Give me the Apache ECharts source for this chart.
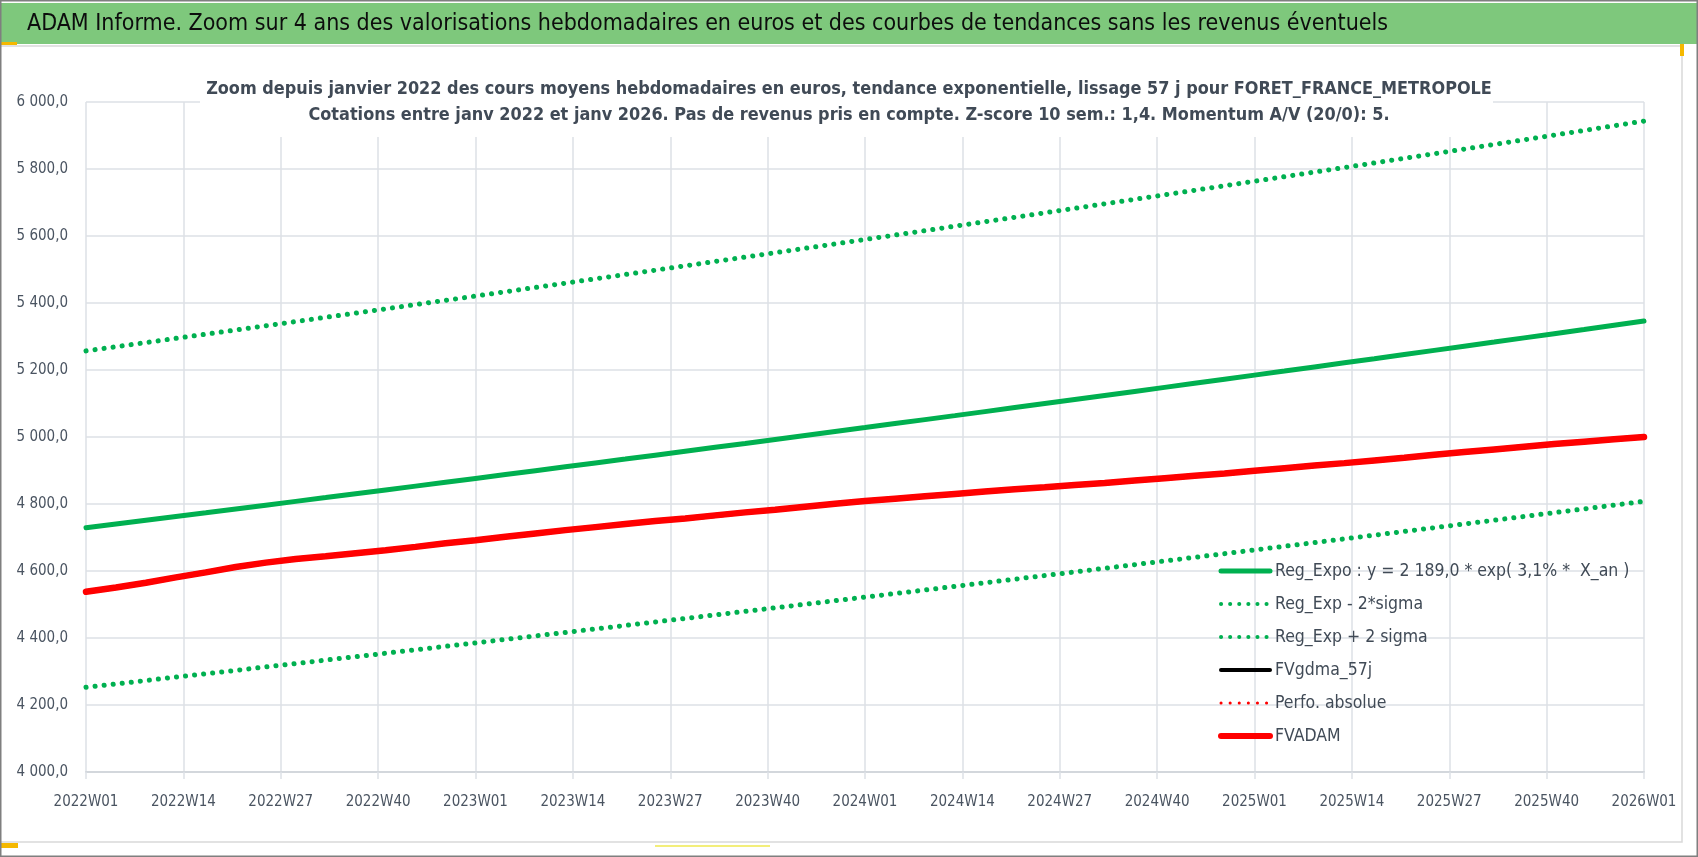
<!DOCTYPE html>
<html>
<head>
<meta charset="utf-8">
<title>ADAM Informe</title>
<script src="https://cdn.jsdelivr.net/npm/echarts@6/dist/echarts.min.js"></script>
<style>
  html, body { margin: 0; padding: 0; background: #fff; }
  #chart { width: 1698px; height: 857px; }
</style>
</head>
<body>
<div id="chart"></div>
<script>
// semaines ISO affichées sur l'axe (2022W01 -> 2026W01)
const weeks = [
  '2022W01','2022W02','2022W03','2022W04','2022W05','2022W06','2022W07','2022W08','2022W09','2022W10','2022W11','2022W12','2022W13',
  '2022W14','2022W15','2022W16','2022W17','2022W18','2022W19','2022W20','2022W21','2022W22','2022W23','2022W24','2022W25','2022W26',
  '2022W27','2022W28','2022W29','2022W30','2022W31','2022W32','2022W33','2022W34','2022W35','2022W36','2022W37','2022W38','2022W39',
  '2022W40','2022W41','2022W42','2022W43','2022W44','2022W45','2022W46','2022W47','2022W48','2022W49','2022W50','2022W51','2022W52',
  '2023W01','2023W02','2023W03','2023W04','2023W05','2023W06','2023W07','2023W08','2023W09','2023W10','2023W11','2023W12','2023W13',
  '2023W14','2023W15','2023W16','2023W17','2023W18','2023W19','2023W20','2023W21','2023W22','2023W23','2023W24','2023W25','2023W26',
  '2023W27','2023W28','2023W29','2023W30','2023W31','2023W32','2023W33','2023W34','2023W35','2023W36','2023W37','2023W38','2023W39',
  '2023W40','2023W41','2023W42','2023W43','2023W44','2023W45','2023W46','2023W47','2023W48','2023W49','2023W50','2023W51','2023W52',
  '2024W01','2024W02','2024W03','2024W04','2024W05','2024W06','2024W07','2024W08','2024W09','2024W10','2024W11','2024W12','2024W13',
  '2024W14','2024W15','2024W16','2024W17','2024W18','2024W19','2024W20','2024W21','2024W22','2024W23','2024W24','2024W25','2024W26',
  '2024W27','2024W28','2024W29','2024W30','2024W31','2024W32','2024W33','2024W34','2024W35','2024W36','2024W37','2024W38','2024W39',
  '2024W40','2024W41','2024W42','2024W43','2024W44','2024W45','2024W46','2024W47','2024W48','2024W49','2024W50','2024W51','2024W52',
  '2025W01','2025W02','2025W03','2025W04','2025W05','2025W06','2025W07','2025W08','2025W09','2025W10','2025W11','2025W12','2025W13',
  '2025W14','2025W15','2025W16','2025W17','2025W18','2025W19','2025W20','2025W21','2025W22','2025W23','2025W24','2025W25','2025W26',
  '2025W27','2025W28','2025W29','2025W30','2025W31','2025W32','2025W33','2025W34','2025W35','2025W36','2025W37','2025W38','2025W39',
  '2025W40','2025W41','2025W42','2025W43','2025W44','2025W45','2025W46','2025W47','2025W48','2025W49','2025W50','2025W51','2025W52',
  '2026W01'
];

// semaines (toutes les 4 semaines)
const sampleWeeks = [
  '2022W01','2022W05','2022W09','2022W13','2022W17','2022W21','2022W25','2022W29','2022W33','2022W37','2022W41','2022W45','2022W49',
  '2023W01','2023W05','2023W09','2023W13','2023W17','2023W21','2023W25','2023W29','2023W33','2023W37','2023W41','2023W45','2023W49',
  '2024W01','2024W05','2024W09','2024W13','2024W17','2024W21','2024W25','2024W29','2024W33','2024W37','2024W41','2024W45','2024W49',
  '2025W01','2025W05','2025W09','2025W13','2025W17','2025W21','2025W25','2025W29','2025W33','2025W37','2025W41','2025W45','2025W49',
  '2026W01'
];

const regExpo = [
  4729.0, 4740.2, 4751.4, 4762.6, 4773.8, 4785.1, 4796.4, 4807.8, 4819.1, 4830.5,
  4841.9, 4853.3, 4864.8, 4876.3, 4887.8, 4899.3, 4910.9, 4922.5, 4934.1, 4945.8,
  4957.5, 4969.2, 4980.9, 4992.7, 5004.5, 5016.3, 5028.1, 5040.0, 5051.9, 5063.8,
  5075.8, 5087.8, 5099.8, 5111.8, 5123.9, 5136.0, 5148.1, 5160.3, 5172.5, 5184.7,
  5196.9, 5209.2, 5221.5, 5233.8, 5246.2, 5258.6, 5271.0, 5283.4, 5295.9, 5308.4,
  5320.9, 5333.5, 5346.1
];

const regExpMinus = [
  4253.0, 4263.0, 4273.1, 4283.2, 4293.3, 4303.4, 4313.6, 4323.8, 4334.0, 4344.2,
  4354.5, 4364.8, 4375.1, 4385.4, 4395.8, 4406.2, 4416.6, 4427.0, 4437.4, 4447.9,
  4458.4, 4468.9, 4479.5, 4490.1, 4500.7, 4511.3, 4522.0, 4532.6, 4543.3, 4554.1,
  4564.8, 4575.6, 4586.4, 4597.2, 4608.1, 4619.0, 4629.9, 4640.8, 4651.8, 4662.8,
  4673.8, 4684.8, 4695.9, 4707.0, 4718.1, 4729.2, 4740.4, 4751.6, 4762.8, 4774.1,
  4785.3, 4796.6, 4807.9
];

const regExpPlus = [
  5257.0, 5269.4, 5281.9, 5294.4, 5306.9, 5319.4, 5332.0, 5344.6, 5357.2, 5369.8,
  5382.5, 5395.2, 5408.0, 5420.7, 5433.5, 5446.4, 5459.2, 5472.1, 5485.0, 5498.0,
  5511.0, 5524.0, 5537.0, 5550.1, 5563.2, 5576.3, 5589.5, 5602.7, 5615.9, 5629.2,
  5642.5, 5655.8, 5669.2, 5682.5, 5696.0, 5709.4, 5722.9, 5736.4, 5749.9, 5763.5,
  5777.1, 5790.8, 5804.4, 5818.1, 5831.9, 5845.6, 5859.4, 5873.3, 5887.2, 5901.1,
  5915.0, 5929.0, 5943.0
];

const fvadam = [
  4538, 4551, 4565, 4581, 4596, 4612, 4625, 4636, 4644, 4653,
  4662, 4672, 4683, 4692, 4702, 4712, 4722, 4731, 4740, 4749,
  4757, 4766, 4775, 4783, 4792, 4801, 4809, 4816, 4823, 4830,
  4837, 4844, 4850, 4857, 4863, 4870, 4877, 4884, 4891, 4899,
  4907, 4915, 4922, 4930, 4938, 4947, 4955, 4963, 4971, 4979,
  4986, 4993, 5000
];

// FVgdma_57j et Perfo. absolue restent cachées sous FVADAM
const fvgdma = fvadam;
const perfoAbs = fvadam;

const yTicks = { min: 4000, max: 6000, step: 200 };

const names = ['Reg_Expo : y = 2 189,0 * exp( 3,1% *  X_an )', 'Reg_Exp - 2*sigma', 'Reg_Exp + 2 sigma',
               'FVgdma_57j', 'Perfo. absolue', 'FVADAM'];

const FONT = "'DejaVu Sans Condensed', 'Liberation Sans', sans-serif";
const GREEN = '#00b050';
const RED = '#ff0000';
const LABEL = '#4a5461';
const GRID = '#dde1e6';

const pairs = vals => sampleWeeks.map((w, i) => [w, vals[i]]);

const fmtY = v => {
  const th = Math.floor(v / 1000);
  const rest = String(v % 1000).padStart(3, '0');
  return th + ' ' + rest + ',0';
};

const solid = (color, width) => ({ color: color, width: width, type: 'solid', cap: 'round' });
const dotted = (color, width) => ({ color: color, width: width, type: [0.1, 9], cap: 'round' });

const styles = [solid(GREEN, 5), dotted(GREEN, 5), dotted(GREEN, 5),
                solid('#000000', 5), dotted(RED, 4), solid(RED, 6.5)];
const legendStyles = [solid(GREEN, 5), dotted(GREEN, 4), dotted(GREEN, 4),
                      solid('#000000', 4), dotted(RED, 3), solid(RED, 6)];
const values = [regExpo, regExpMinus, regExpPlus, fvgdma, perfoAbs, fvadam];

const chart = echarts.init(document.getElementById('chart'), null, { renderer: 'canvas' });

chart.setOption({
  animation: false,
  backgroundColor: '#ffffff',
  textStyle: { fontFamily: FONT },
  graphic: [
    { type: 'rect', z: -10, silent: true, shape: { x: 0, y: 46, width: 1682, height: 796 },
      style: { fill: '#fff', stroke: '#d9d9d9', lineWidth: 1.5 } },
    // fond blanc du sous-titre, qui masque la grille
    { type: 'rect', z: 5, silent: true, shape: { x: 200, y: 60, width: 1293, height: 77 },
      style: { fill: '#ffffff' } },
    { type: 'rect', z: 10, silent: true, shape: { x: 0, y: 3, width: 1698, height: 41 },
      style: { fill: '#7ec87c' } },
    { type: 'text', z: 11, silent: true,
      style: { x: 27, y: 24, verticalAlign: 'middle',
        text: 'ADAM Informe. Zoom sur 4 ans des valorisations hebdomadaires en euros et des courbes de tendances sans les revenus éventuels',
        font: '23px ' + FONT, fill: '#0d0d0d' } },
    { type: 'rect', z: 12, shape: { x: 0, y: 42, width: 17, height: 3 }, style: { fill: '#f5b800' } },
    { type: 'rect', z: 12, shape: { x: 1680, y: 44, width: 4, height: 12 }, style: { fill: '#f5b800' } },
    { type: 'rect', z: 12, shape: { x: 0, y: 843, width: 18, height: 5 }, style: { fill: '#f5b800' } },
    { type: 'rect', z: 12, shape: { x: 655, y: 845, width: 115, height: 2 }, style: { fill: '#f3ee7a' } },
    { type: 'rect', z: 20, silent: true, shape: { x: 0.75, y: 0.75, width: 1696.5, height: 855.5 },
      style: { fill: 'none', stroke: '#7f7f7f', lineWidth: 1.5 } }
  ],
  title: [
    { text: 'Zoom depuis janvier 2022 des cours moyens hebdomadaires en euros, tendance exponentielle, lissage 57 j pour FORET_FRANCE_METROPOLE',
      left: 'center', top: 77, padding: 0, z: 8,
      textStyle: { fontFamily: FONT, fontSize: 17.9, fontWeight: 'bold', color: '#404a56', lineHeight: 24 } },
    { text: 'Cotations entre janv 2022 et janv 2026. Pas de revenus pris en compte. Z-score 10 sem.: 1,4. Momentum A/V (20/0): 5.',
      left: 'center', top: 103, padding: 0, z: 8,
      textStyle: { fontFamily: FONT, fontSize: 17.9, fontWeight: 'bold', color: '#404a56', lineHeight: 24 } }
  ],
  legend: {
    orient: 'vertical',
    left: 1218,
    top: 561,
    padding: 0,
    itemWidth: 49,
    itemHeight: 14,
    itemGap: 13,
    textStyle: { fontFamily: FONT, fontSize: 17.5, color: '#404a56', lineHeight: 20 },
    data: names.map((n, i) => ({ name: n, lineStyle: legendStyles[i], itemStyle: { opacity: 0 } }))
  },
  grid: { left: 86, right: 54, top: 102, bottom: 85, containLabel: false },
  xAxis: {
    type: 'category',
    data: weeks,
    boundaryGap: false,
    axisLine: { show: true, lineStyle: { color: '#d3d7dc', width: 2 } },
    axisTick: { show: true, interval: 12, length: 7, lineStyle: { color: GRID, width: 1.5 } },
    axisLabel: { interval: 12, color: LABEL, fontFamily: FONT, fontSize: 15, margin: 23 },
    splitLine: { show: true, interval: 12, lineStyle: { color: GRID, width: 1.5 } }
  },
  yAxis: {
    type: 'value',
    min: yTicks.min,
    max: yTicks.max,
    interval: yTicks.step,
    axisLine: { show: false },
    axisTick: { show: false },
    axisLabel: { color: LABEL, fontFamily: FONT, fontSize: 15, margin: 18, formatter: fmtY },
    splitLine: { lineStyle: { color: GRID, width: 1.5 } }
  },
  series: names.map((n, i) => ({
    name: n,
    type: 'line',
    data: pairs(values[i]),
    symbol: 'none',
    z: 2 + i * 0.1,
    lineStyle: styles[i],
    itemStyle: { color: styles[i].color }
  }))
});
</script>
</body>
</html>
